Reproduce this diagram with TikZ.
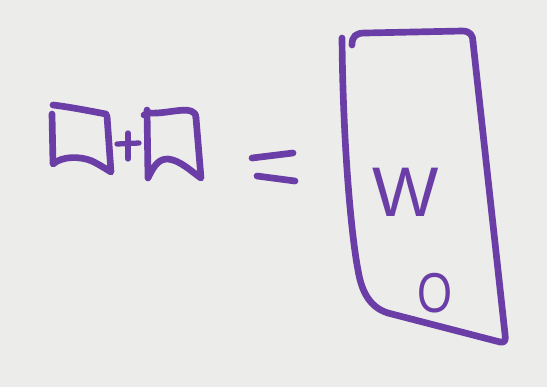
\documentclass[tikz,border=0pt]{standalone}
\usepackage{fontspec}
\setmainfont{Liberation Sans}
\usepackage{xcolor}
\usepackage{tikz}
\definecolor{wbBoard}{HTML}{ECECEA}
\definecolor{wbInk}{HTML}{6A3EA6}
\tikzset{
  wb sketch/.style={x=0.02cm, y=-0.02cm, line cap=round, line join=round},
  wb stroke/.style={draw=wbInk, line width=3.8pt},
  wb thin/.style={draw=wbInk, line width=3pt},
  wb letter/.style={text=wbInk, inner sep=0pt}
}

\begin{document}
\begin{tikzpicture}[wb sketch]
\fill[wbBoard] (0,0) rectangle (547,387);
\useasboundingbox (0,0) rectangle (547,387);
% first small frame
\draw[wb stroke] (52,114) -- (53,164) .. controls (62,156) and (80,156) .. (92,161)
  .. controls (100,165) and (106,169) .. (111,172) -- (107,116);
\draw[wb stroke] (53,105) .. controls (70,107) and (90,111) .. (106,114);
% plus
\draw[wb thin] (128,133) -- (128,159);
\draw[wb thin] (117,144) -- (139,143);
% second small frame
\draw[wb stroke] (147,110) -- (148,178) .. controls (155,163) and (160,159) .. (168,159)
  .. controls (180,160) and (192,172) .. (201,178) -- (196,118);
\draw[wb stroke] (144,115) -- (149,113) .. controls (165,114) and (182,108) .. (191,111) .. controls (194,112) and (196,114) .. (196,118);
% equals
\draw[wb stroke] (252,158) -- (293,153);
\draw[wb stroke] (257,176) -- (295,181);
% big frame
\draw[wb stroke] (342,38) .. controls (343,150) and (352,240) .. (358,270)
  .. controls (362,295) and (372,308) .. (388,313) -- (500,342) .. controls (505,343) and (506,340) .. (505,334) -- (473,42);
\draw[wb stroke] (352,45) .. controls (352,36) and (356,33) .. (365,33) -- (462,31) .. controls (470,31) and (473,35) .. (473,42);
\node[wb letter, font=\fontsize{40}{44}\selectfont] (letterW) at (406,192) {W};
\node[wb letter, font=\fontsize{32}{36}\selectfont, xscale=0.8] (letterO) at (435,293) {O};
\end{tikzpicture}
\end{document}
